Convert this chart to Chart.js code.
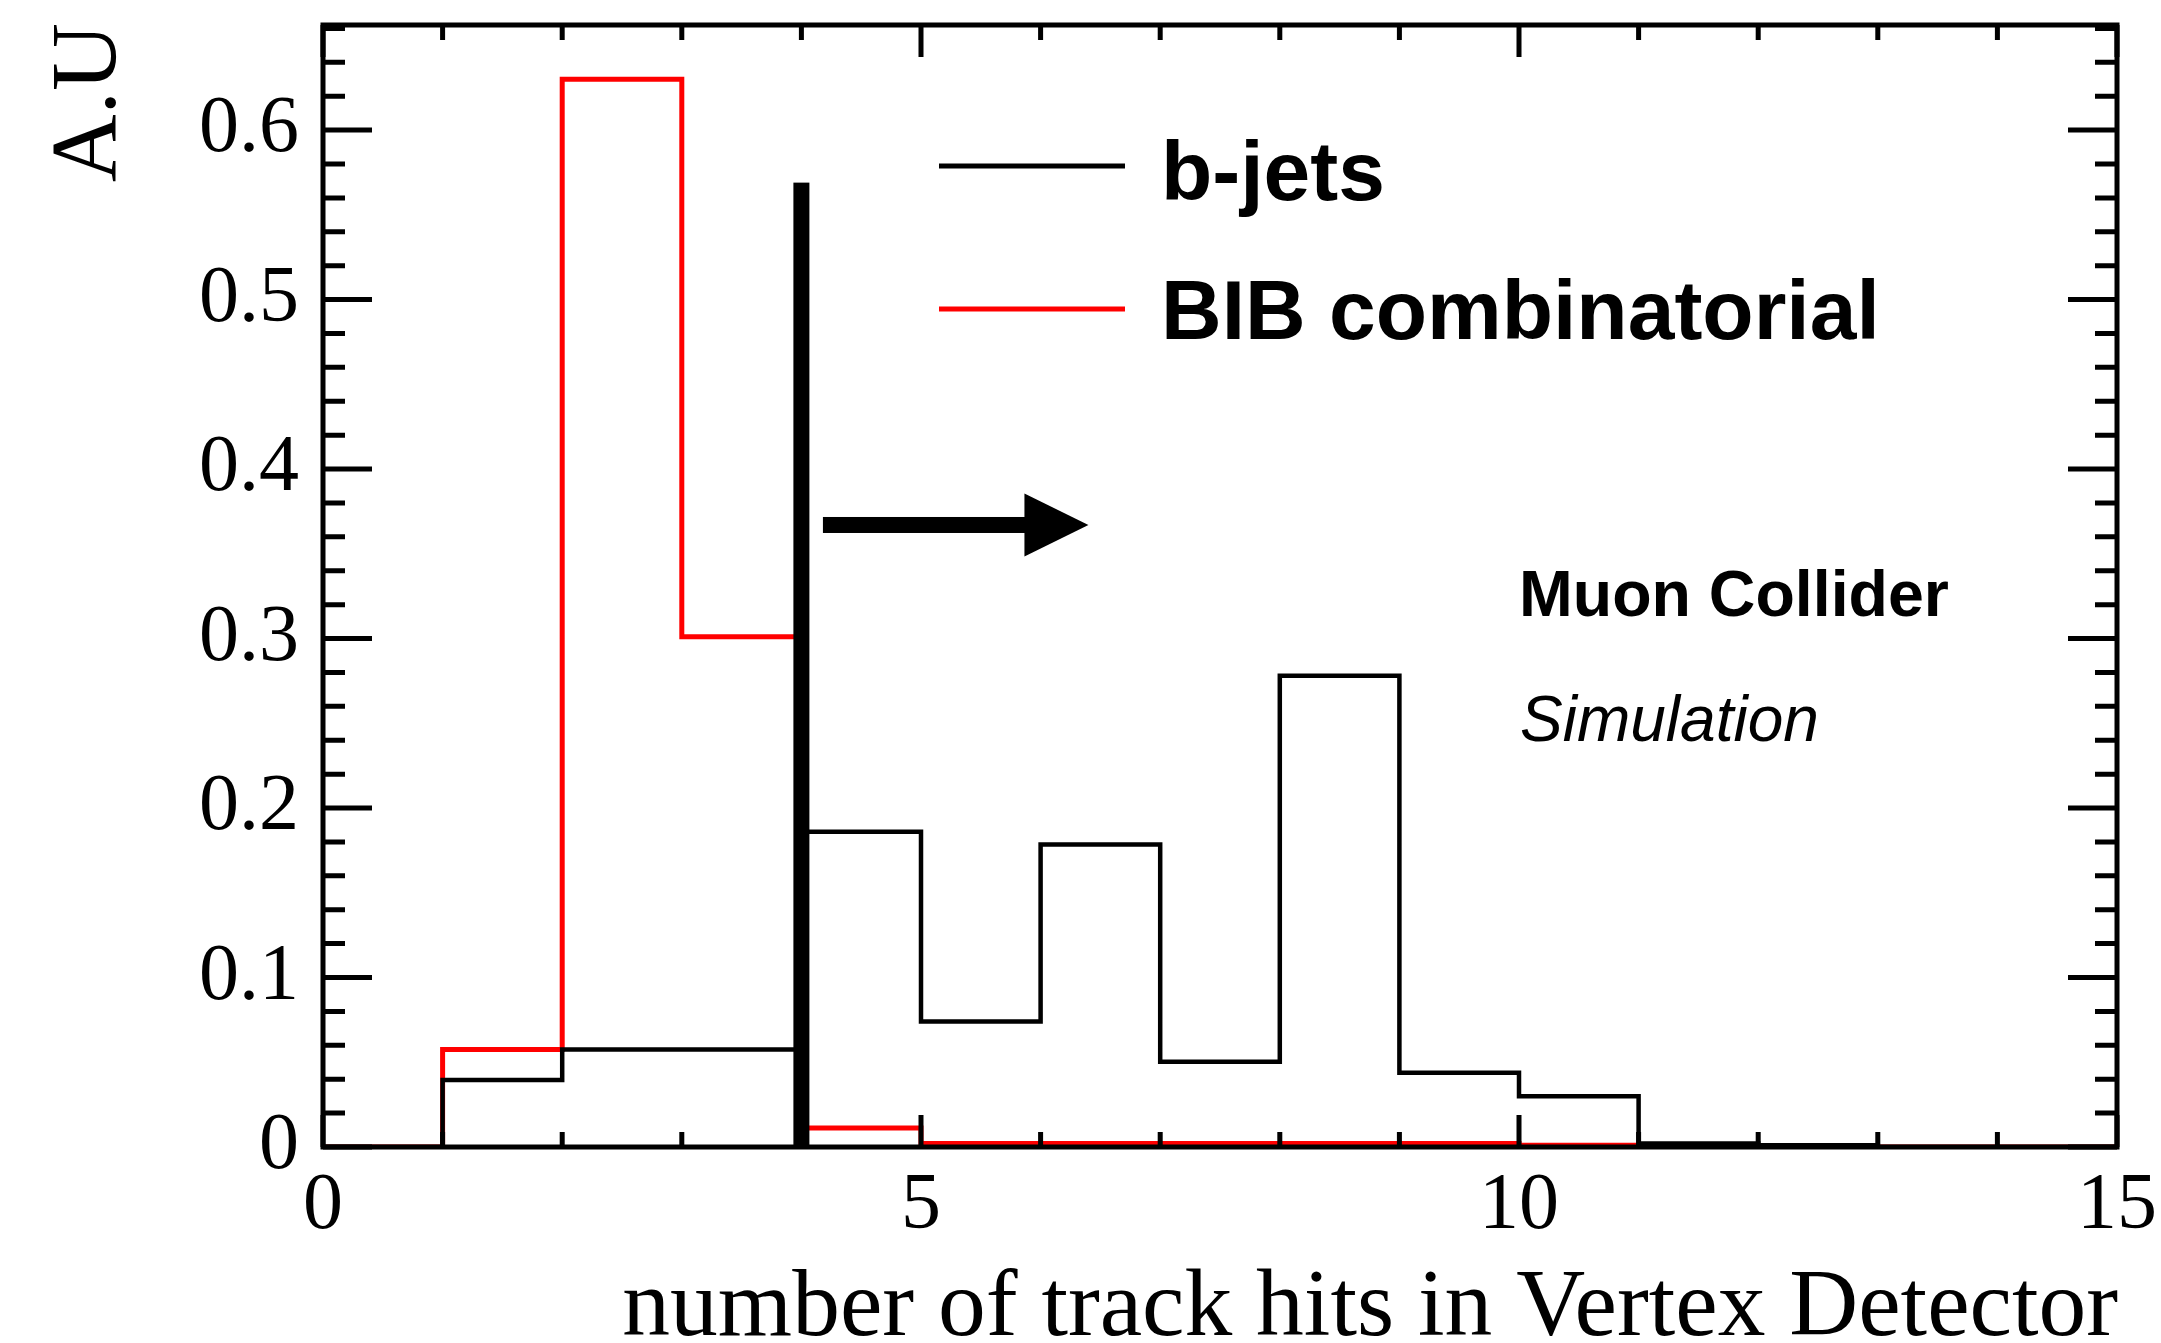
<!DOCTYPE html>
<html>
<head>
<meta charset="utf-8">
<script src="https://cdn.jsdelivr.net/npm/chart.js@4.4.0/dist/chart.umd.min.js"></script>
<style>
html,body{margin:0;padding:0;background:#ffffff;}
canvas{display:block;}
</style>
</head>
<body>
<canvas id="c" width="2161" height="1343"></canvas>
<script>
// ---- data ----
const binEdges = [0,1,2,3,4,5,6,7,8,9,10,11,12,13,14,15];
const bjets = [0, 0.0395, 0.0575, 0.0575, 0.186, 0.074, 0.1785, 0.0503, 0.278, 0.0438, 0.030, 0.002, 0.001, 0, 0];
const bib   = [0, 0.0575, 0.630, 0.301, 0.0112, 0.002, 0.002, 0.002, 0.002, 0.002, 0.001, 0, 0, 0, 0];
const xTicks = [0, 5, 10, 15];
const yTicks = [0, 0.1, 0.2, 0.3, 0.4, 0.5, 0.6];
const xRange = [0, 15];
const yRange = [0, 0.662];
const xMinorStep = 1;
const yMinorStep = 0.02;
const cutLine = {x: 4, top: 0.569};
const arrow = {from: 4.18, to: 6.40, y: 0.367};
const seriesNames = ['b-jets', 'BIB combinatorial'];
const seriesColors = ['#000000', '#ff0000'];
const labelTexts = ['Muon Collider', 'Simulation'];
const xTitle = 'number of track hits in Vertex Detector';
const yTitle = 'A.U';

function histPoints(values) {
  const pts = values.map((v, i) => ({x: binEdges[i], y: v}));
  pts.push({x: binEdges[values.length], y: values[values.length - 1]});
  return pts;
}

const serif = '"Liberation Serif", "Times New Roman", serif';
const sans = '"Liberation Sans", Arial, Helvetica, sans-serif';

const decor = {
  id: 'decor',
  afterDatasetsDraw(chart) {
    const {ctx, chartArea: a, scales: {x, y}} = chart;
    ctx.save();
    ctx.fillStyle = '#000';
    // cut line
    const cx = x.getPixelForValue(cutLine.x);
    const c0 = y.getPixelForValue(0), c1 = y.getPixelForValue(cutLine.top);
    ctx.fillRect(cx - 8, c1, 16, c0 - c1);
    // arrow
    const ax0 = x.getPixelForValue(arrow.from), ax1 = x.getPixelForValue(arrow.to), ay = y.getPixelForValue(arrow.y);
    const headLen = 64, headHalf = 31.5, shaftHalf = 8;
    ctx.fillRect(ax0, ay - shaftHalf, ax1 - headLen - ax0 + 1, 2 * shaftHalf);
    ctx.beginPath();
    ctx.moveTo(ax1 - headLen, ay - headHalf);
    ctx.lineTo(ax1, ay);
    ctx.lineTo(ax1 - headLen, ay + headHalf);
    ctx.closePath();
    ctx.fill();
    // frame
    ctx.strokeStyle = '#000';
    ctx.lineWidth = 5;
    ctx.strokeRect(a.left, a.top, a.right - a.left, a.bottom - a.top);
    // ticks
    ctx.lineWidth = 5;
    ctx.beginPath();
    const xMaj = 32, xMin = 15, yMaj = 49, yMin = 22;
    for (let v = xRange[0]; v <= xRange[1] + 1e-9; v += xMinorStep) {
      const px = x.getPixelForValue(v);
      const len = xTicks.some(t => Math.abs(t - v) < 1e-9) ? xMaj : xMin;
      ctx.moveTo(px, a.bottom); ctx.lineTo(px, a.bottom - len);
      ctx.moveTo(px, a.top); ctx.lineTo(px, a.top + len);
    }
    for (let i = 0; i * yMinorStep <= yRange[1] + 1e-9; i++) {
      const v = i * yMinorStep;
      const py = y.getPixelForValue(v);
      const len = yTicks.some(t => Math.abs(t - v) < 1e-9) ? yMaj : yMin;
      ctx.moveTo(a.left, py); ctx.lineTo(a.left + len, py);
      ctx.moveTo(a.right, py); ctx.lineTo(a.right - len, py);
    }
    ctx.stroke();
    ctx.restore();
  },
  afterDraw(chart) {
    const {ctx, chartArea: a} = chart;
    ctx.save();
    ctx.fillStyle = '#000';
    // axis titles
    ctx.font = '95.5px ' + serif;
    ctx.textAlign = 'right';
    ctx.textBaseline = 'alphabetic';
    ctx.fillText(xTitle, a.right + 1, 1335);
    ctx.save();
    ctx.translate(115, a.top - 2);
    ctx.rotate(-Math.PI / 2);
    ctx.font = '94px ' + serif;
    ctx.fillText(yTitle, 0, 0);
    ctx.restore();
    // legend
    ctx.textAlign = 'left';
    ctx.font = 'bold 84px ' + sans;
    const legY = [166, 309];
    const legText = [200, 339];
    for (let i = 0; i < seriesNames.length; i++) {
      ctx.strokeStyle = seriesColors[i];
      ctx.lineWidth = 5;
      ctx.beginPath();
      ctx.moveTo(939, legY[i]); ctx.lineTo(1125, legY[i]);
      ctx.stroke();
      ctx.fillStyle = '#000';
      ctx.fillText(seriesNames[i], 1161, legText[i]);
    }
    // labels
    ctx.font = 'bold 64.5px ' + sans;
    ctx.fillText(labelTexts[0], 1519, 616);
    ctx.font = 'italic 64px ' + sans;
    ctx.fillText(labelTexts[1], 1520, 741);
    ctx.restore();
  }
};

new Chart(document.getElementById('c'), {
  type: 'line',
  data: {
    datasets: [
      {label: seriesNames[0], data: histPoints(bjets), borderColor: seriesColors[0], borderWidth: 4.5, stepped: true, pointRadius: 0, fill: false, tension: 0},
      {label: seriesNames[1], data: histPoints(bib), borderColor: seriesColors[1], borderWidth: 5, stepped: true, pointRadius: 0, fill: false, tension: 0}
    ]
  },
  options: {
    responsive: false,
    devicePixelRatio: 1,
    animation: false,
    events: [],
    layout: {padding: {left: 0, top: 25, right: 44, bottom: 0}},
    plugins: {legend: {display: false}, tooltip: {enabled: false}, title: {display: false}},
    scales: {
      x: {
        type: 'linear', min: xRange[0], max: xRange[1],
        grid: {display: false, drawTicks: false},
        border: {display: false},
        afterFit(s) { s.height = 1343 - 1147; s.paddingLeft = 0; s.paddingRight = 0; s.paddingTop = 0; s.paddingBottom = 0; },
        afterBuildTicks(s) { s.ticks = xTicks.map(v => ({value: v})); },
        ticks: {color: '#000', font: {family: serif, size: 80}, padding: 12, maxRotation: 0, autoSkip: false,
          callback: v => String(v)}
      },
      y: {
        type: 'linear', min: yRange[0], max: yRange[1],
        grid: {display: false, drawTicks: false},
        border: {display: false},
        afterFit(s) { s.width = 323; s.paddingLeft = 0; s.paddingRight = 0; s.paddingTop = 0; s.paddingBottom = 0; },
        afterBuildTicks(s) { s.ticks = yTicks.map(v => ({value: v})); },
        ticks: {color: '#000', font: {family: serif, size: 80}, padding: 24, autoSkip: false,
          callback: v => String(+v.toFixed(1))}
      }
    }
  },
  plugins: [decor]
});
</script>
</body>
</html>
